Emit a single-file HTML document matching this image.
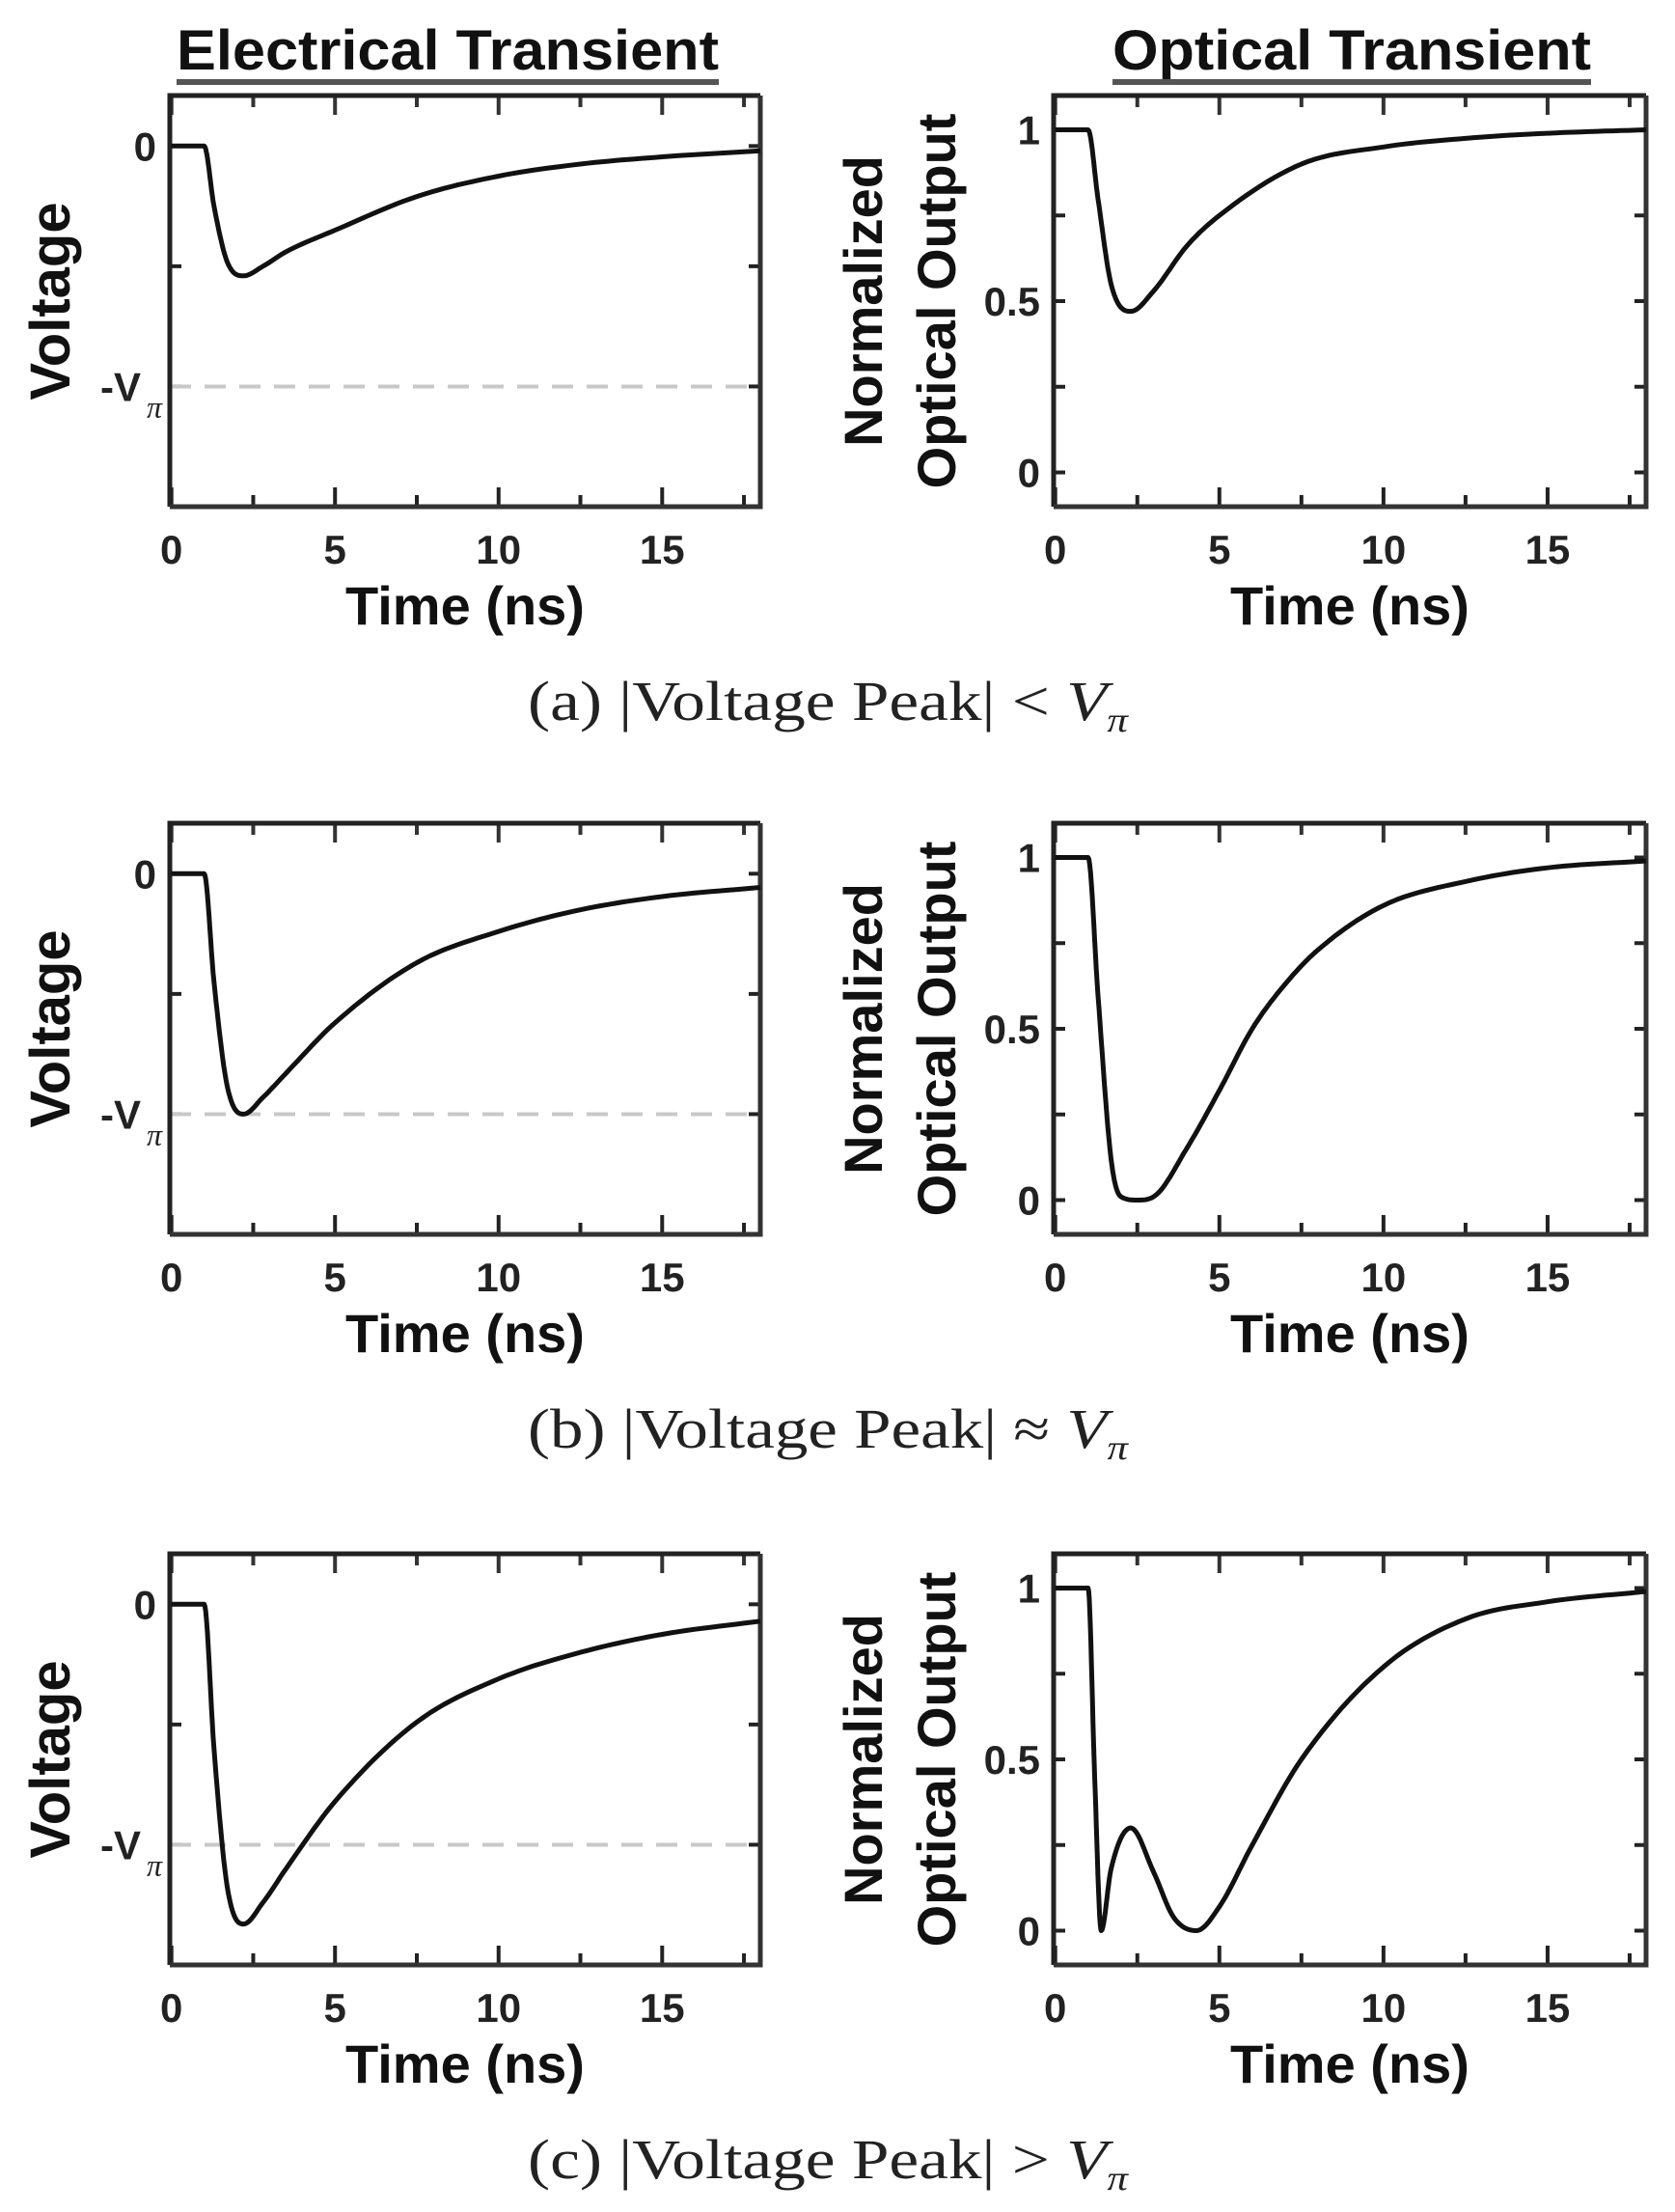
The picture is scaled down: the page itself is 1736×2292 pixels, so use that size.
<!DOCTYPE html>
<html><head><meta charset="utf-8"><style>
html,body{margin:0;padding:0;background:#fff;}
svg{display:block;}
</style></head><body>
<svg id="fig" width="1736" height="2292" viewBox="0 0 1736 2292" xmlns="http://www.w3.org/2000/svg"></svg>
<script>
// ---- data ----
const timesE = [0, 1, 1.3, 1.7, 2.2, 2.8, 3.5, 5, 7.5, 10, 12.5, 15, 18];
const voltA = [0, 0, -0.25, -0.48, -0.54, -0.5, -0.44, -0.35, -0.21, -0.125, -0.075, -0.045, -0.02];
const voltB = [0, 0, -0.45, -0.88, -1.0, -0.93, -0.83, -0.62, -0.37, -0.24, -0.15, -0.095, -0.057];
const voltC = [0, 0, -0.6, -1.17, -1.33, -1.24, -1.1, -0.82, -0.49, -0.31, -0.2, -0.125, -0.07];
const timesOA = [0, 1, 1.3, 1.7, 2.3, 3, 4, 5, 7.5, 10, 12.5, 15, 18];
const optA = [1, 1, 0.8, 0.55, 0.47, 0.53, 0.66, 0.75, 0.9, 0.95, 0.975, 0.99, 1];
const timesOB = [0, 1, 1.3, 1.7, 2.0, 2.5, 3, 4, 5, 6, 7, 8, 10, 12.5, 15, 18];
const optB = [1, 1, 0.6, 0.12, 0.01, 0, 0.01, 0.15, 0.32, 0.5, 0.63, 0.73, 0.86, 0.93, 0.97, 0.99];
const timesOC = [0, 1, 1.2, 1.4, 1.7, 2.3, 3, 3.6, 4.3, 5, 6, 7.5, 10, 12.5, 15, 18];
const optC = [1, 1, 0.45, 0.0, 0.18, 0.3, 0.17, 0.04, 0, 0.07, 0.25, 0.5, 0.77, 0.91, 0.96, 0.99];
const xTickLabels = ["0", "5", "10", "15"];
const xTickValues = [0, 5, 10, 15];
const elecTickValues = [0, -1];
const elecTickLabels = ["0", "-V"];
const optTickValues = [0, 0.5, 1];
const optTickLabels = ["0", "0.5", "1"];
const captions = ["(a) ", "(b) ", "(c) "];
const captionRel = ["<", "\u2248", ">"];

const NS = "http://www.w3.org/2000/svg";
const svg = document.getElementById("fig");
function mk(tag, attrs, parent) {
  const e = document.createElementNS(NS, tag);
  for (const k in attrs) e.setAttribute(k, attrs[k]);
  (parent || svg).appendChild(e);
  return e;
}
function monotone(xs, ys) {
  const n = xs.length, d = [], m = new Array(n);
  for (let i = 0; i < n - 1; i++) d.push((ys[i+1]-ys[i])/(xs[i+1]-xs[i]));
  m[0] = d[0]; m[n-1] = d[n-2];
  for (let i = 1; i < n - 1; i++) m[i] = (d[i-1]*d[i] <= 0) ? 0 : (d[i-1]+d[i])/2;
  for (let i = 0; i < n - 1; i++) {
    if (d[i] === 0) { m[i] = 0; m[i+1] = 0; continue; }
    const a = m[i]/d[i], b = m[i+1]/d[i], s = a*a + b*b;
    if (s > 9) { const t = 3/Math.sqrt(s); m[i] = t*a*d[i]; m[i+1] = t*b*d[i]; }
  }
  const out = [];
  for (let i = 0; i < n - 1; i++) {
    const h = xs[i+1]-xs[i];
    for (let k = 0; k < 12; k++) {
      const t = k/12, t2 = t*t, t3 = t2*t;
      const y = (2*t3-3*t2+1)*ys[i] + (t3-2*t2+t)*h*m[i] + (-2*t3+3*t2)*ys[i+1] + (t3-t2)*h*m[i+1];
      out.push([xs[i] + t*h, y]);
    }
  }
  out.push([xs[n-1], ys[n-1]]);
  return out;
}

function panel(opts) {
  const {L, T, W, H, ymin, ymax, xs, ys, kind, name} = opts;
  const g = mk("g", {}, svg);
  
  
  const xmin = -0.05, xmax = 18;
  const sx = v => L + (v - xmin) / (xmax - xmin) * W;
  const sy = v => T + (ymax - v) / (ymax - ymin) * H;
  for (let v = 0; v <= 17.5; v += 2.5) {
    const len = (v % 5 === 0) ? 20 : 12;
    mk("line", {x1: sx(v), x2: sx(v), y1: T+H, y2: T+H-len, stroke: "#222", "stroke-width": 4}, g);
    mk("line", {x1: sx(v), x2: sx(v), y1: T, y2: T+len, stroke: "#333", "stroke-width": 4}, g);
  }
  const yt = kind === "elec" ? [0, -0.5, -1] : [0, 0.25, 0.5, 0.75, 1];
  yt.forEach(v => {
    const len = 12;
    mk("line", {x1: L, x2: L+len, y1: sy(v), y2: sy(v), stroke: "#222", "stroke-width": 4}, g);
    mk("line", {x1: L+W, x2: L+W-len, y1: sy(v), y2: sy(v), stroke: "#222", "stroke-width": 4}, g);
  });
  if (kind === "elec") {
    const dl = mk("line", {x1: L, x2: L+W, y1: sy(-1), y2: sy(-1), stroke: "#c8c8c8", "stroke-width": 4, "stroke-dasharray": "22 14"}, g);
    
    
  }
  mk("path", {d: `M${L+W},${T} L${L},${T} L${L},${T+H}`, fill: "none", stroke: "#222", "stroke-width": 5}, g);
  mk("path", {d: `M${L},${T+H} L${L+W},${T+H} L${L+W},${T}`, fill: "none", stroke: "#333", "stroke-width": 5}, g);
  const pts = monotone(xs, ys);
  const d = pts.map((p, i) => (i ? "L" : "M") + sx(p[0]).toFixed(1) + "," + sy(p[1]).toFixed(1)).join(" ");
  const c = mk("path", {d, fill: "none", stroke: "#111", "stroke-width": 5, "stroke-linejoin": "round"}, g);
  
  
  xTickValues.forEach((v, i) => {
    const t = mk("text", {x: sx(v), y: T+H+59, "text-anchor": "middle", "font-family": "Liberation Sans, sans-serif", "font-weight": "bold", "font-size": 42, fill: "#222"}, g);
    t.textContent = xTickLabels[i];
    
    
  });
  const xt = mk("text", {x: L + W/2, y: T+H+122, "text-anchor": "middle", "font-family": "Liberation Sans, sans-serif", "font-weight": "bold", "font-size": 56, fill: "#111"}, g);
  xt.textContent = "Time (ns)";
  
  
  const vals = kind === "elec" ? elecTickValues : optTickValues;
  const labs = kind === "elec" ? elecTickLabels : optTickLabels;
  vals.forEach((v, i) => {
    const t = mk("text", {x: L - 14, y: sy(v) + 15, "text-anchor": "end", "font-family": "Liberation Sans, sans-serif", "font-weight": "bold", "font-size": 42, fill: "#222"}, g);
    if (kind === "elec" && v === -1) {
      t.setAttribute("x", L - 30);
      t.textContent = "-V";
      const s = mk("text", {x: L - 8, y: sy(v) + 32, "text-anchor": "end", "font-family": "Liberation Serif, serif", "font-style": "italic", "font-size": 32, fill: "#222"}, g);
      s.textContent = "\u03c0";
      
      
    } else t.textContent = labs[i];
    
    
  });
  const cy = T + H/2;
  if (kind === "elec") {
    const yl = mk("text", {x: 0, y: 0, transform: `translate(${L-104},${cy}) rotate(-90)`, "text-anchor": "middle", "font-family": "Liberation Sans, sans-serif", "font-weight": "bold", "font-size": 58, fill: "#111"}, g);
    yl.textContent = "Voltage";
    
    
  } else {
    const y1 = mk("text", {x: 0, y: 0, transform: `translate(${L-178},${cy}) rotate(-90)`, "text-anchor": "middle", "font-family": "Liberation Sans, sans-serif", "font-weight": "bold", "font-size": 56, fill: "#111"}, g);
    y1.textContent = "Normalized";
    
    
    const y2 = mk("text", {x: 0, y: 0, transform: `translate(${L-102},${cy}) rotate(-90)`, "text-anchor": "middle", "font-family": "Liberation Sans, sans-serif", "font-weight": "bold", "font-size": 56, fill: "#111"}, g);
    y2.textContent = "Optical Output";
    
    
  }
}

[["Electrical Transient", 464, 183, 745, "electrical-title"], ["Optical Transient", 1401, 1153, 1649, "optical-title"]].forEach(a => {
  const t = mk("text", {x: a[1], y: 72, "text-anchor": "middle", "font-family": "Liberation Sans, sans-serif", "font-weight": "bold", "font-size": 58, fill: "#111", textLength: a[3]-a[2], lengthAdjust: "spacingAndGlyphs"});
  t.textContent = a[0];
  
  
  mk("rect", {x: a[2], y: 82, width: a[3]-a[2], height: 6, fill: "#555"});
});

const tops = [99, 853, 1610];
const elecData = [voltA, voltB, voltC];
const optT = [timesOA, timesOB, timesOC];
const optData = [optA, optB, optC];
const rowNames = ["a", "b", "c"];
tops.forEach((T, r) => {
  panel({L: 176, T, W: 612, H: 426, ymin: -1.5, ymax: 0.21, xs: timesE, ys: elecData[r], kind: "elec", name: "electrical-panel-" + rowNames[r]});
  panel({L: 1092, T, W: 614, H: 426, ymin: -0.1, ymax: 1.1, xs: optT[r], ys: optData[r], kind: "opt", name: "optical-panel-" + rowNames[r]});
  const c = mk("text", {x: 858, y: T + 647, "text-anchor": "middle", "font-family": "Liberation Serif, serif", "font-size": 58, fill: "#222", textLength: 622, lengthAdjust: "spacingAndGlyphs"});
  
  
  c.textContent = captions[r] + "|Voltage Peak| " + captionRel[r] + " ";
  const ts = document.createElementNS(NS, "tspan");
  ts.setAttribute("font-style", "italic");
  ts.textContent = "V";
  c.appendChild(ts);
  const ts2 = document.createElementNS(NS, "tspan");
  ts2.setAttribute("font-style", "italic");
  ts2.setAttribute("font-size", "36");
  ts2.setAttribute("dy", "12");
  ts2.textContent = "\u03c0";
  c.appendChild(ts2);
});
</script>
</body></html>
